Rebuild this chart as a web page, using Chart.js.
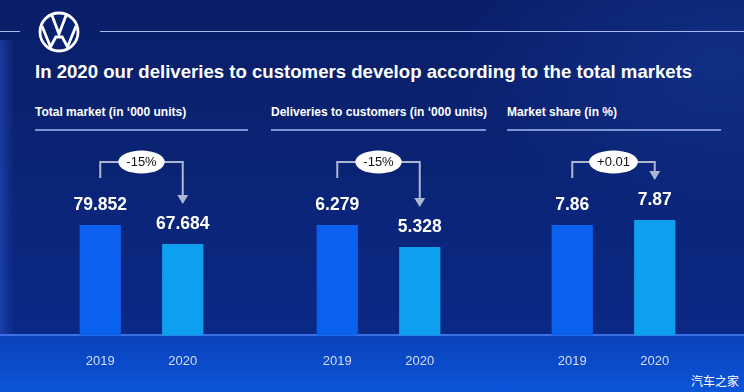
<!DOCTYPE html>
<html>
<head>
<meta charset="utf-8">
<script src="https://cdn.jsdelivr.net/npm/chart.js@4"></script>
<style>
  html, body { margin:0; padding:0; }
  body { width:744px; height:392px; overflow:hidden; position:relative; font-family:"Liberation Sans", Arial, sans-serif; background:#0a2170; }
  .bgTop { position:absolute; left:0; top:0; width:744px; height:336px;
    background: linear-gradient(180deg, #0a1e68 0%, #0a2373 45%, #0a2986 100%); }
  .bgGlow { position:absolute; left:0; top:0; width:744px; height:336px;
    background: radial-gradient(ellipse 260px 160px at 720px 60px, rgba(30,80,190,0.30), rgba(30,80,190,0)); }
  .bgStrip { position:absolute; left:0; top:40px; width:14px; height:296px;
    background: linear-gradient(90deg, rgba(40,80,200,0.55), rgba(40,80,200,0)); }
  .bgBottom { position:absolute; left:0; top:336px; width:744px; height:56px;
    background: linear-gradient(180deg, #0a42ba 0%, #0b4ccc 60%, #0c55d8 100%); }
  .base { position:absolute; left:0; top:334px; width:744px; height:2px; background:#3d6fe4; }
  .hline { position:absolute; height:1.5px; background:#a9b9e8; }
  .uline { position:absolute; height:2px; background:#7d93d4; }
  .title { position:absolute; left:35px; top:61px; color:#fff; font-weight:bold; font-size:18.6px; white-space:nowrap; }
  .sub { position:absolute; top:105px; color:#fff; font-weight:bold; font-size:12px; white-space:nowrap; }
  .wm { position:absolute; left:691px; top:372px; color:#fff; font-family:"Noto Sans CJK SC", sans-serif; font-size:12px; }
  canvas { position:absolute; }
  .logo { position:absolute; left:38px; top:11px; }
</style>
</head>
<body>
<div class="bgTop"></div>
<div class="bgGlow"></div>
<div class="bgStrip"></div>
<div class="bgBottom"></div>
<div class="base"></div>
<div class="hline" style="left:0; top:30.5px; width:20px;"></div>
<div class="hline" style="left:100px; top:30.5px; width:644px;"></div>
<svg class="logo" width="42" height="42" viewBox="-21 -21 42 42">
  <circle cx="0" cy="0" r="19" fill="#0a2070" stroke="#fff" stroke-width="2.8"/>
  <polyline points="-7,-16.5 0,2 7,-16.5" fill="none" stroke="#fff" stroke-width="2.8" stroke-linejoin="miter"/>
  <polyline points="-17,-6 -8.5,15 -3.2,5 0,5 3.2,5 8.5,15 17,-6" fill="none" stroke="#fff" stroke-width="2.8" stroke-linejoin="miter"/>
</svg>
<div class="title" id="title"></div>
<div class="sub" id="sub0" style="left:35px;"></div>
<div class="sub" id="sub1" style="left:271px;"></div>
<div class="sub" id="sub2" style="left:507px;"></div>
<div class="uline" style="left:35px; top:128.5px; width:213px;"></div>
<div class="uline" style="left:271px; top:128.5px; width:215px;"></div>
<div class="uline" style="left:507px; top:128.5px; width:214px;"></div>
<div class="wm">汽车之家</div>

<canvas id="c0" width="165" height="252" style="left:58.75px; top:140px;"></canvas>
<canvas id="c1" width="165" height="252" style="left:295.75px; top:140px;"></canvas>
<canvas id="c2" width="165" height="252" style="left:531.25px; top:140px;"></canvas>

<script>
// ---- data ----
const chartTitle = "In 2020 our deliveries to customers develop according to the total markets";
const panelTitles = ["Total market (in \u2018000 units)", "Deliveries to customers (in \u2018000 units)", "Market share (in %)"];
const years = ["2019", "2020"];
const totalMarket = [79.852, 67.684];
const deliveries = [6.279, 5.328];
const marketShare = [7.86, 7.87];
const changeLabels = ["-15%", "-15%", "+0.01"];
const decimals = [3, 3, 2];

document.getElementById('title').textContent = chartTitle;
panelTitles.forEach((t, i) => document.getElementById('sub' + i).textContent = t);

const seriesList = [totalMarket, deliveries, marketShare];
// visual axis ranges (styling, chosen to match the slide's bar heights)
const axisRanges = [[9.08, 134.28], [1.50, 9.95], [7.639, 8.03]];
const barColors = ["#0b60ee", "#0ea0ee"];

const annotate = {
  id: 'annotate',
  afterDatasetsDraw(chart, args, opts) {
    const ctx = chart.ctx;
    const meta = chart.getDatasetMeta(0);
    const vals = chart.data.datasets[0].data;
    const b0 = meta.data[0], b1 = meta.data[1];
    ctx.save();
    // value labels
    ctx.fillStyle = '#ffffff';
    ctx.font = 'bold 17.5px "Liberation Sans", Arial, sans-serif';
    ctx.textAlign = 'center';
    ctx.textBaseline = 'middle';
    meta.data.forEach((bar, i) => {
      ctx.fillText(vals[i].toFixed(opts.decimals), bar.x, bar.y - 20);
    });
    // bracket arrow
    const yTop = chart.chartArea.top + 22;
    const yL = b0.y - 47;
    const yTip = b1.y - 40;
    ctx.strokeStyle = '#aeb7d2';
    ctx.lineWidth = 2;
    ctx.beginPath();
    ctx.moveTo(b0.x, yL);
    ctx.lineTo(b0.x, yTop);
    ctx.lineTo(b1.x, yTop);
    ctx.lineTo(b1.x, yTip - 8);
    ctx.stroke();
    ctx.fillStyle = '#aeb7d2';
    ctx.beginPath();
    ctx.moveTo(b1.x - 5.5, yTip - 9);
    ctx.lineTo(b1.x + 5.5, yTip - 9);
    ctx.lineTo(b1.x, yTip);
    ctx.closePath();
    ctx.fill();
    // oval label
    const cx = (b0.x + b1.x) / 2;
    ctx.font = '13px "Liberation Sans", Arial, sans-serif';
    const w = ctx.measureText(opts.label).width;
    const rx = w / 2 + 8, ry = 11.5;
    ctx.fillStyle = '#ffffff';
    ctx.beginPath();
    ctx.ellipse(cx, yTop, rx, ry, 0, 0, Math.PI * 2);
    ctx.fill();
    ctx.fillStyle = '#111111';
    ctx.fillText(opts.label, cx, yTop + 0.5);
    ctx.restore();
  }
};

seriesList.forEach((series, i) => {
  new Chart(document.getElementById('c' + i), {
    type: 'bar',
    data: {
      labels: years,
      datasets: [{
        data: series,
        backgroundColor: barColors,
        borderWidth: 0,
        categoryPercentage: 1,
        barPercentage: 0.5
      }]
    },
    options: {
      responsive: false,
      animation: false,
      events: [],
      layout: { padding: 0 },
      plugins: {
        legend: { display: false },
        tooltip: { enabled: false },
        annotate: { label: changeLabels[i], decimals: decimals[i] }
      },
      scales: {
        x: {
          offset: true,
          grid: { display: false, drawTicks: false, tickLength: 0 },
          border: { display: false },
          ticks: { color: '#d6def5', padding: 18, font: { size: 13, family: '"Liberation Sans", Arial, sans-serif' } },
          afterFit: (axis) => { axis.height = 56.5; }
        },
        y: {
          display: false,
          min: axisRanges[i][0],
          max: axisRanges[i][1]
        }
      }
    },
    plugins: [annotate]
  });
});
</script>
</body>
</html>
